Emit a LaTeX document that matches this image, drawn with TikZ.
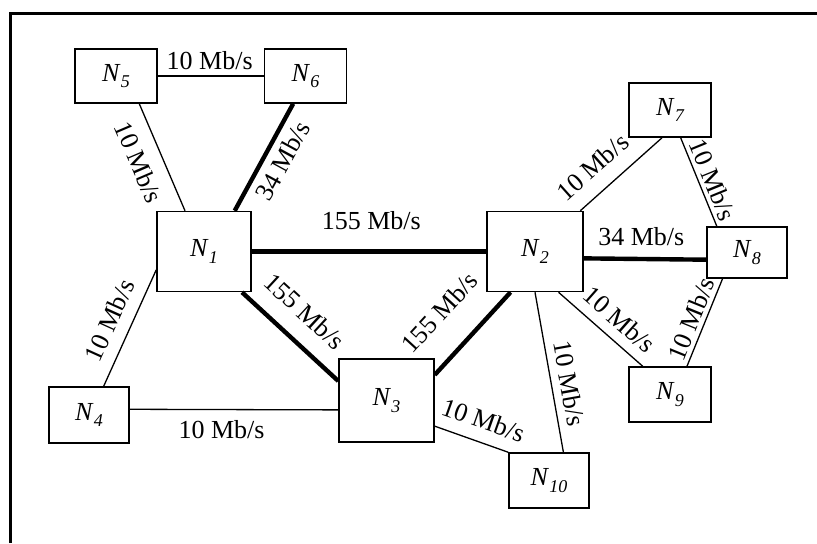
\documentclass[tikz,border=0pt]{standalone}
\usepackage{fontspec}
\setmainfont{Liberation Serif}
\newcommand{\nname}[1]{\textit{N}\raisebox{-3.3pt}{\fontsize{9}{9}\selectfont\itshape #1}}

\begin{document}
\begin{tikzpicture}[x=0.5pt,y=-0.5pt,box/.style={draw,line width=0.75pt,minimum width=41pt,minimum height=27pt,inner sep=0pt,font=\fontsize{13}{15}\selectfont},hub/.style={box,minimum width=47pt,minimum height=40pt},link/.style={line width=0.65pt},trunk/.style={line width=2.2pt},rate/.style={font=\fontsize{13}{15}\selectfont,inner sep=1pt}]
 \useasboundingbox (0,0) rectangle (817,543);
 \draw[line width=1.5pt] (10.5,543)--(10.5,13.3)--(817,13.3);
 \node[hub] (N1) at (204,251.5) {\nname{1}};
 \node[hub,minimum width=48pt] (N2) at (535,251.5) {\nname{2}};
 \node[hub,minimum width=47.5pt,minimum height=41.5pt] (N3) at (386.5,400.5) {\nname{3}};
 \node[box,minimum width=40pt,minimum height=28pt] (N4) at (89,415) {\nname{4}};
 \node[box] (N5) at (116,76) {\nname{5}};
 \node[box] (N6) at (305.5,76) {\nname{6}};
 \node[box] (N7) at (670,110) {\nname{7}};
 \node[box,minimum width=40pt,minimum height=25.5pt] (N8) at (747,252.5) {\nname{8}};
 \node[box,minimum height=27.5pt] (N9) at (670,394.5) {\nname{9}};
 \node[box,minimum width=40pt,minimum height=27.5pt] (N10) at (549,480.5) {\nname{10}};
 \draw[link] (N5)--node[rate,above=1.8pt,pos=0.49]{10 Mb/s}(N6);
 \draw[link] (N5.-50.8)--node[rate,sloped,below=5.7pt,pos=0.46]{10 Mb/s}(N1.115.7);
 \draw[trunk] (N1.53.7)--node[rate,sloped,below=2.4pt,pos=0.55]{34 Mb/s}(N6.-114.8);
 \draw[trunk] (N1)--node[rate,above=9pt,pos=0.51]{155 Mb/s}(N2);
 \draw[trunk] (N1.-47.7)--node[rate,sloped,above=7.6pt,pos=0.45]{155 Mb/s}(N3.158.7);
 \draw[trunk] (N3.28.7)--node[rate,sloped,above=12.6pt,pos=0.44]{155 Mb/s}(N2.-121.7);
 \draw[link] (N4.63.4)--node[rate,sloped,above=5pt,pos=0.49]{10 Mb/s}(N1.-159.6);
 \draw[link] (N4.8.5)--node[rate,below=4.2pt,pos=0.44]{10 Mb/s}(N3.-169.9);
 \draw[link] (N3.-28.2)--node[rate,sloped,above=5.1pt,pos=0.56]{10 Mb/s}(N10.north west);
 \draw[link] (N2.south)--node[rate,sloped,above=3pt,pos=0.59]{10 Mb/s}(N10.63);
 \draw[link] (N2.42)--node[rate,sloped,above=6.3pt,pos=0.35]{10 Mb/s}(N7.-106.5);
 \draw[link] (N7.-69.7)--node[rate,sloped,above=1pt,pos=0.53]{10 Mb/s}(N8.139.6);
 \draw[trunk] (N2.-8.9)--node[rate,above=4.5pt,pos=0.47]{34 Mb/s}(N8.-170.8);
 \draw[link] (N2.-60.4)--node[rate,sloped,above=4pt,pos=0.57]{10 Mb/s}(N9.134.5);
 \draw[link] (N9.59.8)--node[rate,sloped,above=1pt,pos=0.48]{10 Mb/s}(N8.-133.3);
\end{tikzpicture}
\end{document}
